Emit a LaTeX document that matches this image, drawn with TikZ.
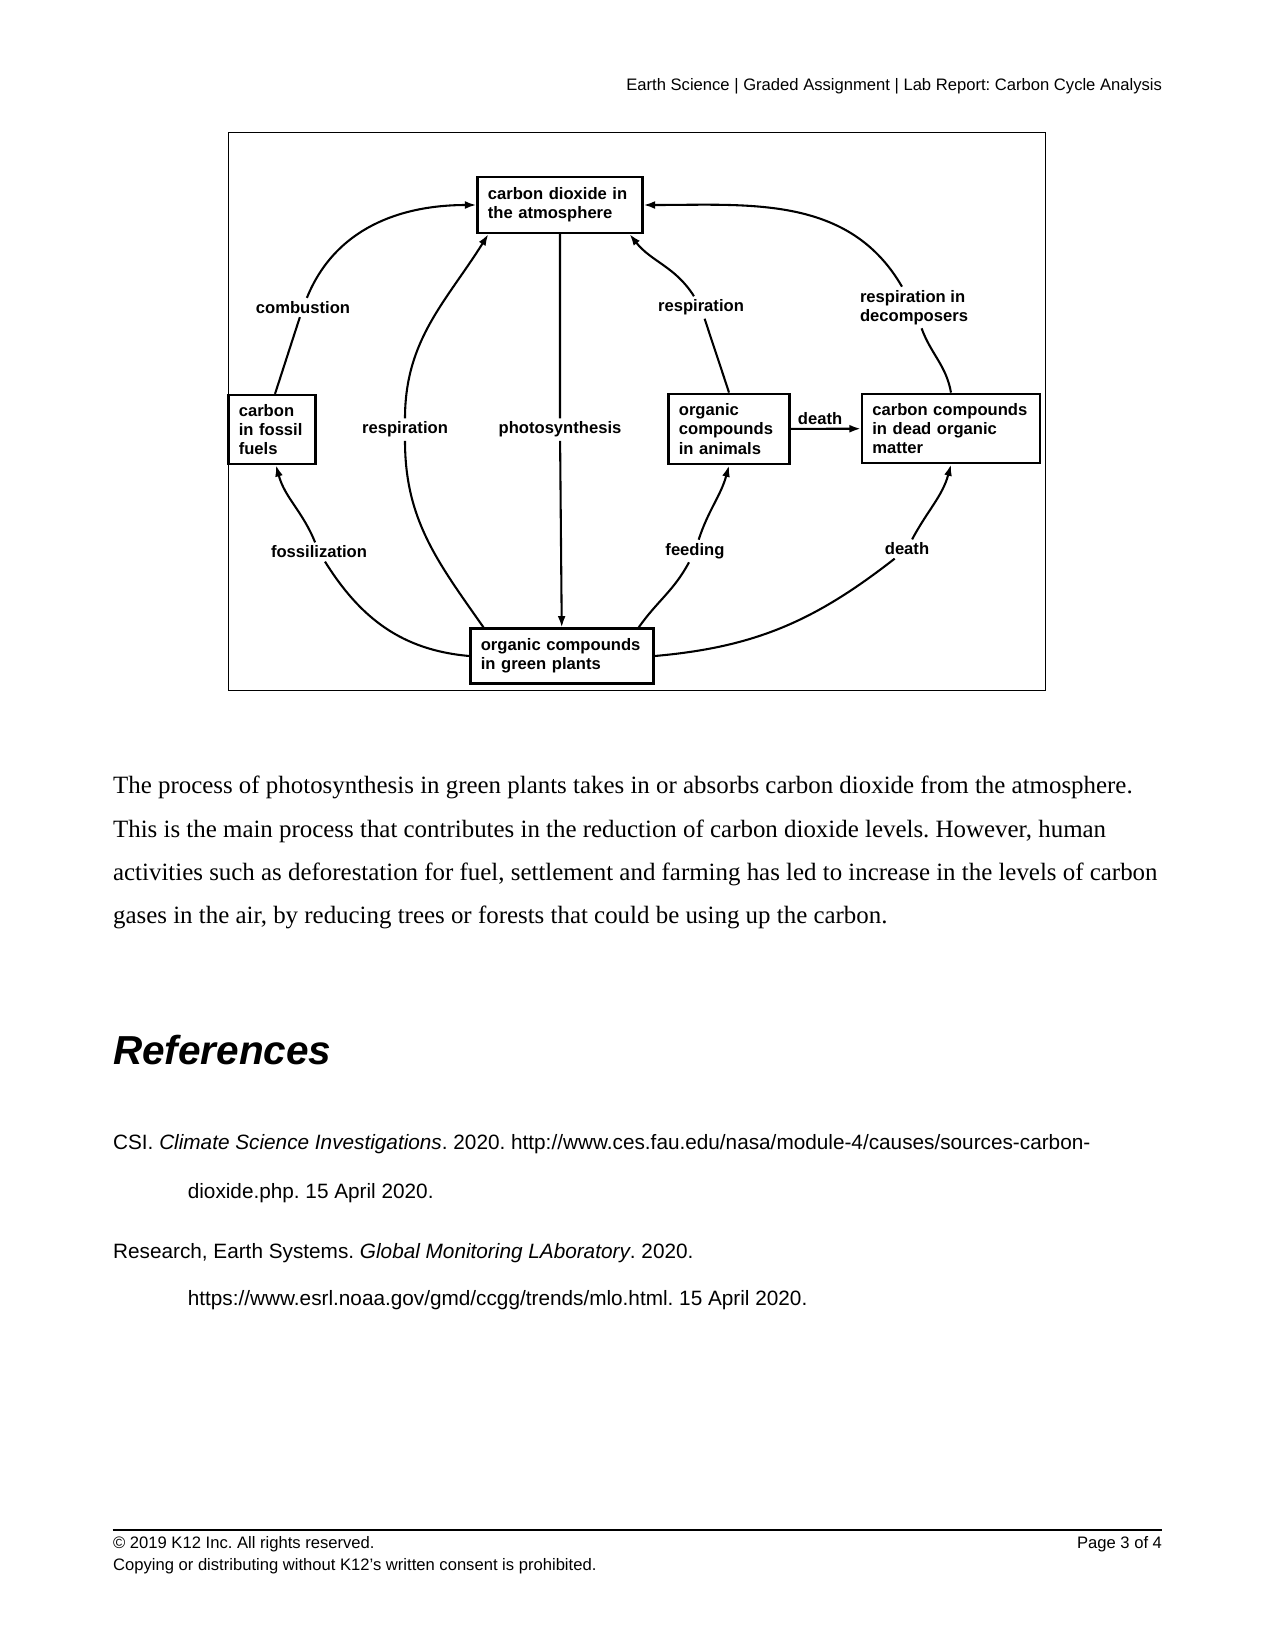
\documentclass[tikz,border=0pt]{standalone}
\usepackage{fontspec}
\setmainfont{Liberation Serif}
\setsansfont{Liberation Sans}
\usetikzlibrary{arrows.meta,calc}
\frenchspacing
\newcommand{\diagfont}{\sffamily\bfseries\fontsize{8}{9.2}\selectfont}
\newcommand{\pagefont}{\sffamily\fontsize{8}{9.6}\selectfont}
\newcommand{\reffont}{\sffamily\fontsize{10}{12}\selectfont}

\begin{document}
\begin{tikzpicture}[x=0.169333mm, y=0.169333mm,
    cbox/.style={draw, line width=1.1pt, align=left, inner xsep=5pt, font=\diagfont},
    lbl/.style={font=\diagfont, inner sep=1.5pt},
    flow/.style={line width=1pt, -{Latex[length=5.5pt,width=3.8pt]}},
    pagetext/.style={inner sep=0, font=\pagefont}]
\useasboundingbox (0,0) rectangle (1275,-1651);

% Header
\node[pagetext, anchor=east] (header) at (1162.4,-86.3) {Earth Science | Graded Assignment | Lab Report: Carbon Cycle Analysis};

% Diagram frame
\draw[line width=0.7pt] (228.5,-132.7) rectangle (1045.5,-690.7);

% Carbon stores
\node[cbox, text width=69.5pt, minimum height=27pt] (co2) at (560,-205) {carbon dioxide in\\the atmosphere};
\node[cbox, text width=32pt, minimum height=33.2pt] (fossil) at (272,-429.5) {carbon\\in fossil\\fuels};
\node[cbox, text width=48.3pt, minimum height=34pt] (animals) at (729,-429) {organic\\compounds\\in animals};
\node[cbox, text width=75.8pt, minimum height=33.5pt] (dead) at (951,-428.5) {carbon compounds\\in dead organic\\matter};
\node[cbox, text width=78.2pt, minimum height=26.4pt] (plants) at (562,-656) {organic compounds\\in green plants};

% Process labels
\node[lbl] (lcomb) at (303,-307.5) {combustion};
\node[lbl] (lrespl) at (405,-429.6) {respiration};
\node[lbl] (lphoto) at (560,-429.6) {photosynthesis};
\node[lbl] (lrespr) at (701,-307.5) {respiration};
\node[lbl, align=left] (ldecomp) at (914,-307.5) {respiration in\\decomposers};
\node[lbl] (lfossil) at (319,-552) {fossilization};
\node[lbl] (lfeed) at (695,-551) {feeding};
\node[lbl] (ldeath) at (907,-549) {death};

% Flows
\draw[flow] ($(fossil.north)+(3,0)$) to[out=72,in=-108] (lcomb) to[out=68,in=180] (co2.west);
\draw[flow] (plants.160) to[out=125,in=-90] (lrespl) to[out=90,in=-122] ($(co2.south west)+(12,0)$);
\draw[flow] (co2) -- (lphoto) -- (plants);
\draw[flow] (animals.north) to[out=108,in=-72] (lrespr) to[out=122,in=-52] ($(co2.south east)+(-14,0)$);
\draw[flow] (dead.north) to[out=100,in=-70] (ldecomp) to[out=120,in=0] (co2.east);
\draw[flow] (animals) -- node[lbl, above, pos=0.42] (ldeathtop) {death} (dead);
\draw[flow] (plants.west) to[out=175,in=-58] (lfossil) to[out=112,in=-75] ($(fossil.south)+(4,0)$);
\draw[flow] ($(plants.north east)+(-16,0)$) to[out=55,in=-118] (lfeed) to[out=72,in=-105] (animals.south);
\draw[flow] (plants.east) to[out=5,in=-142] (ldeath) to[out=62,in=-105] (dead.south);

% Paragraph
\node[anchor=north west, inner sep=0, align=left, font=\fontsize{12}{20.8}\selectfont] (para) at (112.7,-776) {The process of photosynthesis in green plants takes in or absorbs carbon dioxide from the atmosphere.\\This is the main process that contributes in the reduction of carbon dioxide levels. However, human\\activities such as deforestation for fuel, settlement and farming has led to increase in the levels of carbon\\gases in the air, by reducing trees or forests that could be using up the carbon.};

% References
\node[anchor=west, inner sep=0, font=\sffamily\bfseries\itshape\fontsize{19.5}{24}\selectfont] (refhead) at (112.7,-1049.7) {References};
\node[anchor=west, inner sep=0, font=\reffont] (csi) at (112.7,-1144.5) {CSI. \textit{Climate Science Investigations}. 2020. http://www.ces.fau.edu/nasa/module-4/causes/sources-carbon-};
\node[anchor=west, inner sep=0, font=\reffont] (csiurl) at (187.4,-1193) {dioxide.php. 15 April 2020.};
\node[anchor=west, inner sep=0, font=\reffont] (esr) at (112.7,-1253) {Research, Earth Systems. \textit{Global Monitoring LAboratory}. 2020.};
\node[anchor=west, inner sep=0, font=\reffont] (esrurl) at (187.4,-1300) {https://www.esrl.noaa.gov/gmd/ccgg/trends/mlo.html. 15 April 2020.};

% Footer
\draw[line width=0.8pt] (112.7,-1530) -- (1162.4,-1530);
\node[pagetext, anchor=west] (rights) at (112.7,-1544.6) {© 2019 K12 Inc. All rights reserved.};
\node[pagetext, anchor=east] (pageno) at (1162.4,-1544.6) {Page 3 of 4};
\node[pagetext, anchor=west] (consent) at (112.7,-1565.7) {Copying or distributing without K12’s written consent is prohibited.};
\end{tikzpicture}
\end{document}
